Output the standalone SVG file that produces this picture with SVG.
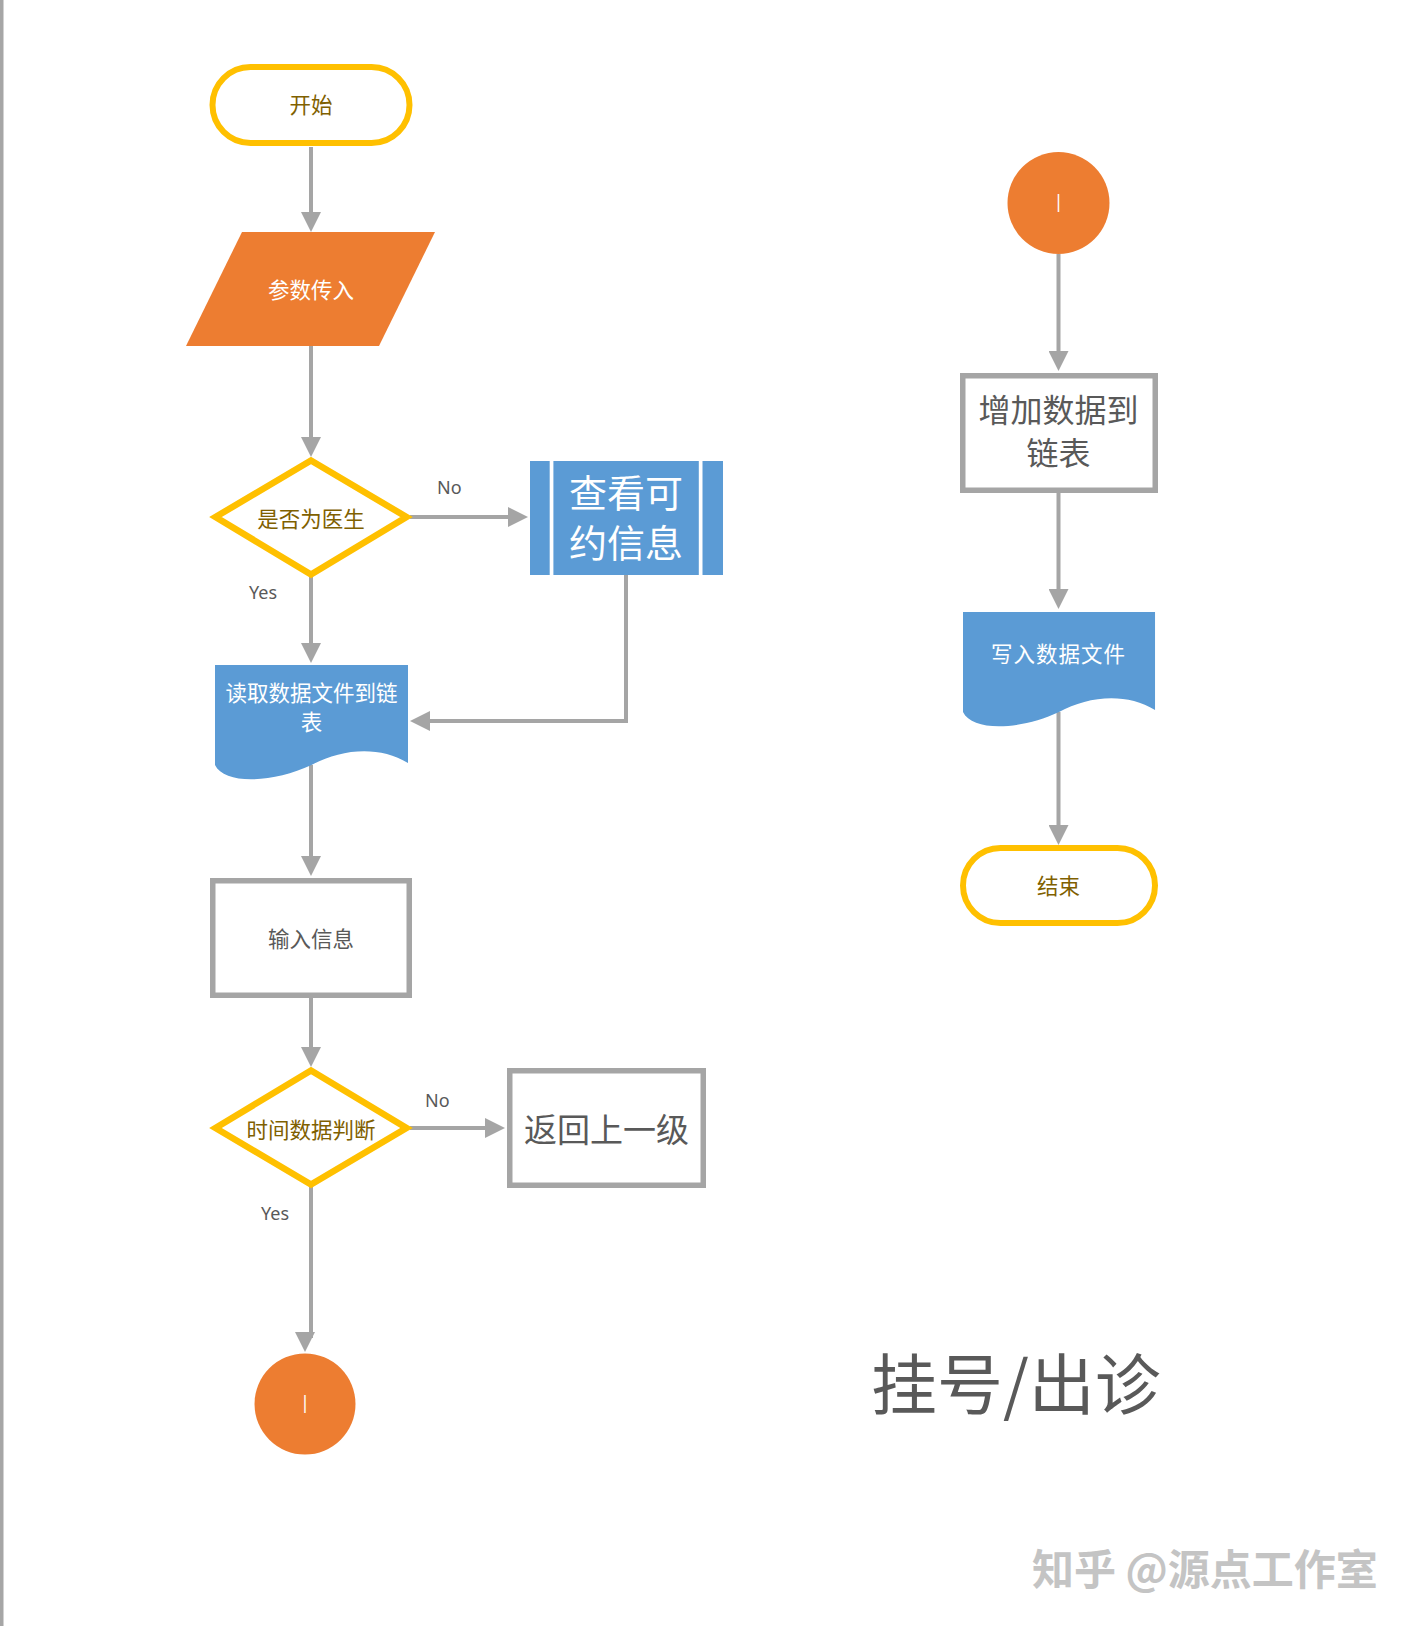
<svg xmlns="http://www.w3.org/2000/svg" width="1413" height="1626" viewBox="0 0 1413 1626">
  <style>
    .cjk { font-family: 'Noto Sans CJK SC', sans-serif; text-anchor: middle; }
    .olive { fill: #7F6000; font-size: 21.5px; }
    .white { fill: #FFFFFF; font-size: 21.5px; }
    .gray { fill: #595959; font-size: 21.5px; }
    .lbl { font-family: 'Noto Sans', 'Open Sans', sans-serif; font-size: 18px; fill: #595959; }
    .term { fill: #FFFFFF; stroke: #FFC000; stroke-width: 6; }
    .dec { fill: #FFFFFF; stroke: #FFC000; stroke-width: 6.5; stroke-linejoin: miter; }
    .proc { fill: #FFFFFF; stroke: #A5A5A5; stroke-width: 5.5; }
    .orange { fill: #ED7D31; }
    .blue { fill: #5B9BD5; }
    .conn { fill: none; stroke: #A5A5A5; stroke-width: 4; }
    .ic { font-family: 'Open Sans', sans-serif; font-size: 26px; fill: #FFFFFF; text-anchor: middle; font-weight: 300; }
  </style>
  <defs>
    <marker id="arr" viewBox="0 0 20 20" refX="4" refY="10" markerWidth="20" markerHeight="20" markerUnits="userSpaceOnUse" orient="auto">
      <path d="M0,0 L20,10 L0,20 Z" fill="#A5A5A5"/>
    </marker>
    <path id="doc" d="M0 0 H193 V98 C164 80 125.5 84 96.5 100 C58 118 9.6 120 0 100 Z"/>
  </defs>

  <rect x="0" y="0" width="3.5" height="1626" fill="#A6A6A6"/>

  <g id="connectors">
    <path class="conn" d="M311 147 V216" marker-end="url(#arr)"/>
    <path class="conn" d="M311 346 V441" marker-end="url(#arr)"/>
    <path class="conn" d="M410 517 H512" marker-end="url(#arr)"/>
    <path class="conn" d="M626 575 V721 H426" marker-end="url(#arr)"/>
    <path class="conn" d="M311 577 V647" marker-end="url(#arr)"/>
    <path class="conn" d="M311 765 V860" marker-end="url(#arr)"/>
    <path class="conn" d="M311 998 V1051" marker-end="url(#arr)"/>
    <path class="conn" d="M410 1128 H489" marker-end="url(#arr)"/>
    <path class="conn" d="M311 1187 V1338"/>
    <polygon points="295,1332 315,1332 305,1352" fill="#A5A5A5"/>
    <path class="conn" d="M1058.5 254 V355" marker-end="url(#arr)"/>
    <path class="conn" d="M1058.5 493 V593" marker-end="url(#arr)"/>
    <path class="conn" d="M1058.5 712 V829" marker-end="url(#arr)"/>
    <text class="lbl" x="437" y="494">No</text>
    <text class="lbl" x="249" y="599">Yes</text>
    <text class="lbl" x="425" y="1107">No</text>
    <text class="lbl" x="261" y="1220">Yes</text>
  </g>

  <g id="start">
    <rect class="term" x="212.5" y="67" width="197" height="76" rx="38"/>
    <text class="cjk olive" x="311" y="113">开始</text>
  </g>

  <g id="input-params">
    <polygon class="orange" points="242,232 435,232 379,346 186,346"/>
    <text class="cjk white" x="311" y="298">参数传入</text>
  </g>

  <g id="is-doctor">
    <polygon class="dec" points="311,460.5 406.5,517 311,574.5 215.5,517"/>
    <text class="cjk olive" x="311" y="527">是否为医生</text>
  </g>

  <g id="view-info">
    <rect class="blue" x="530" y="461" width="193" height="114"/>
    <rect x="549.7" y="461" width="3.7" height="114" fill="#FFFFFF"/>
    <rect x="698.8" y="461" width="3.7" height="114" fill="#FFFFFF"/>
    <text class="cjk" x="626" y="506.5" fill="#FFFFFF" font-size="38">查看可</text>
    <text class="cjk" x="626" y="556.5" fill="#FFFFFF" font-size="38">约信息</text>
  </g>

  <g id="read-file">
    <use href="#doc" class="blue" transform="translate(215,665)"/>
    <text class="cjk white" x="311.5" y="701" font-size="22">读取数据文件到链</text>
    <text class="cjk white" x="311.5" y="730" font-size="22">表</text>
  </g>

  <g id="input-info">
    <rect class="proc" x="212.75" y="880.75" width="196.5" height="114.5"/>
    <text class="cjk gray" x="311" y="947">输入信息</text>
  </g>

  <g id="time-check">
    <polygon class="dec" points="311,1070.5 406.5,1128 311,1184.5 215.5,1128"/>
    <text class="cjk olive" x="311" y="1138" font-size="22">时间数据判断</text>
  </g>

  <g id="go-back">
    <rect class="proc" x="509.75" y="1070.75" width="193.5" height="114.5"/>
    <text class="cjk" x="606.5" y="1141.5" fill="#595959" font-size="33">返回上一级</text>
  </g>

  <g id="connector-out">
    <circle class="orange" cx="305" cy="1404" r="50.5"/>
    <text class="ic" x="305" y="1413">I</text>
  </g>

  <g id="connector-in">
    <circle class="orange" cx="1058.5" cy="203" r="51"/>
    <text class="ic" x="1058.5" y="212">I</text>
  </g>

  <g id="add-to-list">
    <rect class="proc" x="962.75" y="375.75" width="192.5" height="114.5"/>
    <text class="cjk" x="1058.5" y="422" fill="#595959" font-size="32">增加数据到</text>
    <text class="cjk" x="1058.5" y="465" fill="#595959" font-size="32">链表</text>
  </g>

  <g id="write-file">
    <use href="#doc" class="blue" transform="translate(963,612) scale(0.995,1)"/>
    <text class="cjk white" x="1058.5" y="662" letter-spacing="1">写入数据文件</text>
  </g>

  <g id="end">
    <rect class="term" x="963" y="848" width="192" height="75" rx="37.5"/>
    <text class="cjk olive" x="1058.5" y="893.5">结束</text>
  </g>

  <g id="title">
    <text x="871" y="1409" font-family="'Noto Sans CJK SC', sans-serif" font-size="66" fill="#595959">挂号/出诊</text>
  </g>

  <g id="watermark">
    <text x="1032" y="1585" font-family="'Noto Sans CJK SC', sans-serif" font-size="42" font-weight="bold" fill="#C4C4C4">知乎 @源点工作室</text>
  </g>
</svg>
